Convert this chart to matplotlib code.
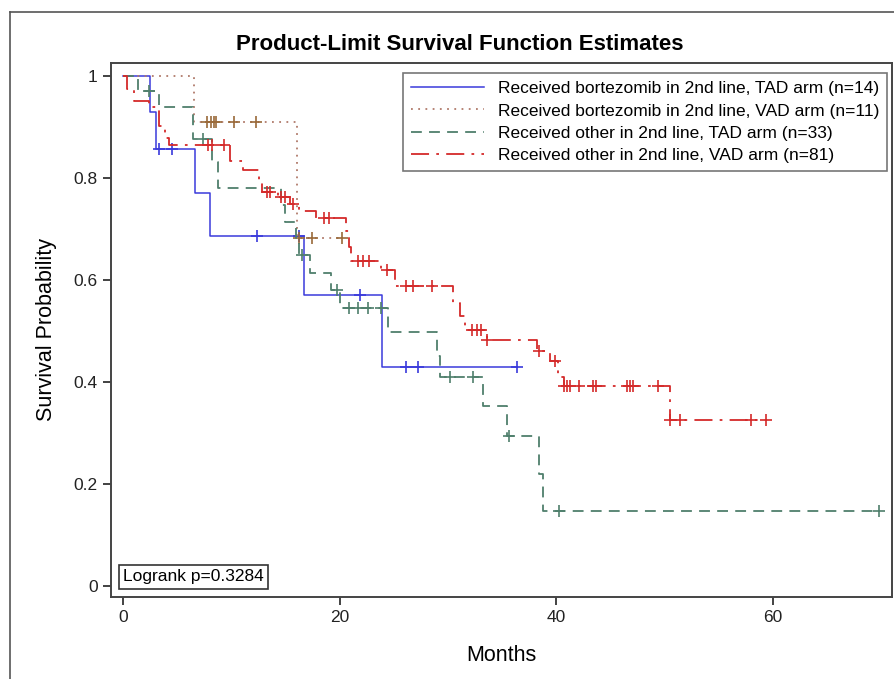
import numpy as np
from matplotlib import pyplot as plt
from matplotlib.lines import Line2D

plt.rcParams["font.family"] = ["Liberation Sans", "DejaVu Sans"]

# event times (months) and survival after each event, plus censoring times
TAD_BORT_TIMES = [2.5, 3.1, 6.7, 8.0, 16.7, 23.9]
TAD_BORT_SURV = [0.929, 0.857, 0.771, 0.686, 0.571, 0.429]
TAD_BORT_CENS = [3.3, 4.5, 12.4, 16.3, 21.9, 26.1, 27.2, 36.4]

VAD_BORT_TIMES = [6.6, 16.1]
VAD_BORT_SURV = [0.909, 0.682]
VAD_BORT_CENS = [7.8, 8.1, 8.4, 8.6, 10.3, 12.3, 16.3, 17.5, 20.2]

TAD_OTHER_TIMES = [1.4, 3.3, 6.5, 8.2, 8.8, 14.6, 15.0, 16.0, 16.3, 17.3, 19.2,
                   20.0, 24.5, 29.0, 29.3, 33.2, 35.5, 38.4, 38.8]
TAD_OTHER_SURV = [0.970, 0.939, 0.876, 0.830, 0.779, 0.746, 0.714, 0.682, 0.649,
                  0.614, 0.580, 0.545, 0.497, 0.450, 0.410, 0.352, 0.293, 0.220, 0.147]
TAD_OTHER_CENS = [2.4, 7.4, 16.5, 19.8, 20.9, 21.7, 22.6, 23.8, 30.2, 32.3,
                  35.6, 40.3, 69.8]

VAD_OTHER_TIMES = [0.4, 1.0, 2.4, 3.3, 3.9, 4.3, 9.9, 11.1, 12.6, 12.8, 14.3,
                   15.4, 16.3, 17.8, 20.6, 20.9, 21.1, 23.8, 25.1, 30.5, 31.1,
                   31.6, 33.6, 38.2, 39.4, 40.2, 40.7, 50.5]
VAD_OTHER_SURV = [0.975, 0.951, 0.938, 0.901, 0.877, 0.864, 0.833, 0.815, 0.790,
                  0.773, 0.763, 0.749, 0.735, 0.721, 0.695, 0.665, 0.636, 0.620,
                  0.587, 0.555, 0.528, 0.502, 0.482, 0.461, 0.440, 0.410, 0.392,
                  0.325]
VAD_OTHER_CENS = [7.9, 8.2, 9.3, 13.3, 13.6, 14.6, 15.0, 15.7, 18.6, 19.0, 21.7,
                  22.2, 22.7, 24.4, 26.1, 26.8, 28.5, 32.2, 32.7, 33.1, 33.6,
                  38.4, 39.9, 40.7, 41.0, 41.3, 42.1, 43.4, 43.7, 46.5, 46.8,
                  47.1, 49.4, 50.5, 51.4, 58.0, 59.4]

LABELS = [
    "Received bortezomib in 2nd line, TAD arm (n=14)",
    "Received bortezomib in 2nd line, VAD arm (n=11)",
    "Received other in 2nd line, TAD arm (n=33)",
    "Received other in 2nd line, VAD arm (n=81)",
]
LOGRANK_P = 0.3284


def step_curve(times, surv, cens):
    x = np.concatenate([[0.0], times, [max(max(times), max(cens))]])
    y = np.concatenate([[1.0], surv, [surv[-1]]])
    return x, y


def surv_at(times, surv, t):
    idx = np.searchsorted(times, t, side="right")
    return np.where(idx == 0, 1.0, np.asarray(surv)[np.maximum(idx - 1, 0)])


def plot_group(ax, times, surv, cens, label, color, ls, mcolor=None, lw=1.2):
    x, y = step_curve(times, surv, cens)
    ax.step(x, y, where="post", color=color, linestyle=ls, lw=lw, label=label)
    ax.plot(cens, surv_at(times, surv, cens), linestyle="none", marker="+",
            ms=9, mew=1.2, color=mcolor or color)


fig = plt.figure(figsize=(8.95, 6.79), dpi=100)
ax = fig.add_axes([0.124, 0.1208, 0.8726, 0.7864])

plot_group(ax, TAD_BORT_TIMES, TAD_BORT_SURV, TAD_BORT_CENS, LABELS[0],
           "#3a3adb", "-", lw=1.1)
plot_group(ax, VAD_BORT_TIMES, VAD_BORT_SURV, VAD_BORT_CENS, LABELS[1],
           "#b07a6a", (0, (1, 3)), mcolor="#9a6a3a", lw=1.3)
plot_group(ax, TAD_OTHER_TIMES, TAD_OTHER_SURV, TAD_OTHER_CENS, LABELS[2],
           "#4f7f6c", (0, (6, 4)), lw=1.3)
plot_group(ax, VAD_OTHER_TIMES, VAD_OTHER_SURV, VAD_OTHER_CENS, LABELS[3],
           "#d42a2a", (0, (10, 4, 1.5, 4)), lw=1.3)

ax.set_xlim(-1.1, 71.0)
ax.set_ylim(-0.022, 1.025)
ax.set_xticks([0, 20, 40, 60])
ax.set_yticks([0, 0.2, 0.4, 0.6, 0.8, 1.0])
ax.set_yticklabels(["0", "0.2", "0.4", "0.6", "0.8", "1"])
ax.tick_params(direction="out", length=6, width=1.2, labelsize=12.5,
               colors="#222222")
for sp in ax.spines.values():
    sp.set_color("#444444")
    sp.set_linewidth(1.4)

ax.set_xlabel("Months", fontsize=15.5, labelpad=14)
ax.set_ylabel("Survival Probability", fontsize=15.5, labelpad=12)

leg = ax.legend(loc="upper right", bbox_to_anchor=(0.9936, 0.981),
                fontsize=12.5, handlelength=4.2, fancybox=False, framealpha=1,
                borderpad=0.45, labelspacing=0.42, handletextpad=0.8,
                borderaxespad=0)
leg.get_frame().set_edgecolor("#777777")
leg.get_frame().set_linewidth(1.2)

ax.text(0.0154, 0.0235, f"Logrank p={LOGRANK_P}", transform=ax.transAxes,
        fontsize=12.5, ha="left", va="bottom",
        bbox=dict(boxstyle="square,pad=0.25", fc="white", ec="#333333", lw=1.2))

fig.text(0.514, 0.935, "Product-Limit Survival Function Estimates",
         fontsize=16, fontweight="bold", ha="center", va="center")

# outer frame around the whole graphic
fig.add_artist(Line2D([0.011, 1.0], [0.9823, 0.9823], color="#555555", lw=1.2))
fig.add_artist(Line2D([0.011, 0.011], [0.0, 0.9823], color="#555555", lw=1.2))

fig.savefig("out.png", dpi=100)
